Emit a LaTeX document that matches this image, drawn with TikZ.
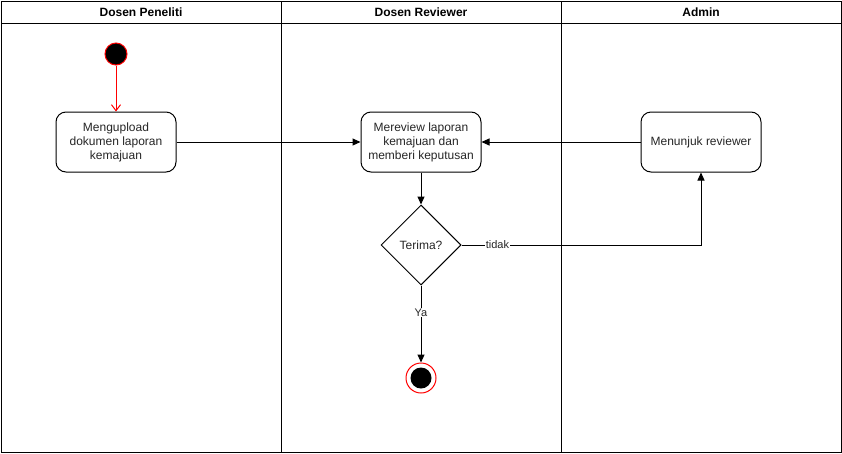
\documentclass[tikz,border=0pt]{standalone}
\usepackage{fontspec}
\setmainfont{Liberation Sans}
\usetikzlibrary{arrows.meta,shapes.geometric}
\begin{document}
\begin{tikzpicture}[x=1pt,y=-1pt,
  lane/.style={draw=black,line width=1pt},
  hdr/.style={font=\bfseries\fontsize{12}{14}\selectfont},
  act/.style={draw=black,line width=1pt,rounded corners=10pt,minimum width=120pt,minimum height=60pt,align=center,inner sep=2pt,font=\fontsize{12}{14}\selectfont,text=black!85},
  dec/.style={draw=black,line width=1pt,diamond,minimum width=80pt,minimum height=80pt,inner sep=0pt,font=\fontsize{12}{14}\selectfont,text=black!85},
  flow/.style={draw=black,line width=1pt,-{Triangle[length=8pt,width=7pt]}},
  lbl/.style={fill=white,inner sep=1pt,font=\fontsize{11}{13}\selectfont,text=black!85}
]
\useasboundingbox (0,0) rectangle (842,453);
\fill[white] (0,0) rectangle (842,453);
% swimlanes
\draw[lane] (1,1) rectangle (281,452);
\draw[lane] (281,1) rectangle (561,452);
\draw[lane] (561,1) rectangle (841,452);
\draw[lane] (1,23) -- (841,23);
\node[hdr] (h1) at (141,12) {Dosen Peneliti};
\node[hdr] (h2) at (421,12) {Dosen Reviewer};
\node[hdr] (h3) at (701,12) {Admin};
% nodes
\node[circle,fill=black,draw=red,line width=1pt,minimum size=22pt,inner sep=0pt] (start) at (116,54) {};
\node[act] (a1) at (116,142) {Mengupload\\dokumen laporan\\kemajuan};
\node[act] (a2) at (421,142) {Mereview laporan\\kemajuan dan\\memberi keputusan};
\node[act] (a3) at (701,142) {Menunjuk reviewer};
\node[dec] (d) at (421,245) {Terima?};
\node[circle,draw=red,line width=1pt,fill=white,minimum size=30pt,inner sep=0pt] (end) at (421,378) {};
\node[circle,fill=black,minimum size=21pt,inner sep=0pt] (endin) at (421,378) {};
\coordinate (c1) at (701,245);
% connectors
\draw[draw=red,line width=1pt,-{Straight Barb[length=6pt,width=9pt]}] (start) -- (a1);
\draw[flow] (a1) -- (a2);
\draw[flow] (a3) -- (a2);
\draw[flow] (a2) -- (d);
\draw[flow] (d.east) -- node[lbl,pos=0.15] {tidak} (c1) -- (a3);
\draw[flow] (d.south) -- node[lbl,pos=0.35] {Ya} (end.north);
\end{tikzpicture}
\end{document}
